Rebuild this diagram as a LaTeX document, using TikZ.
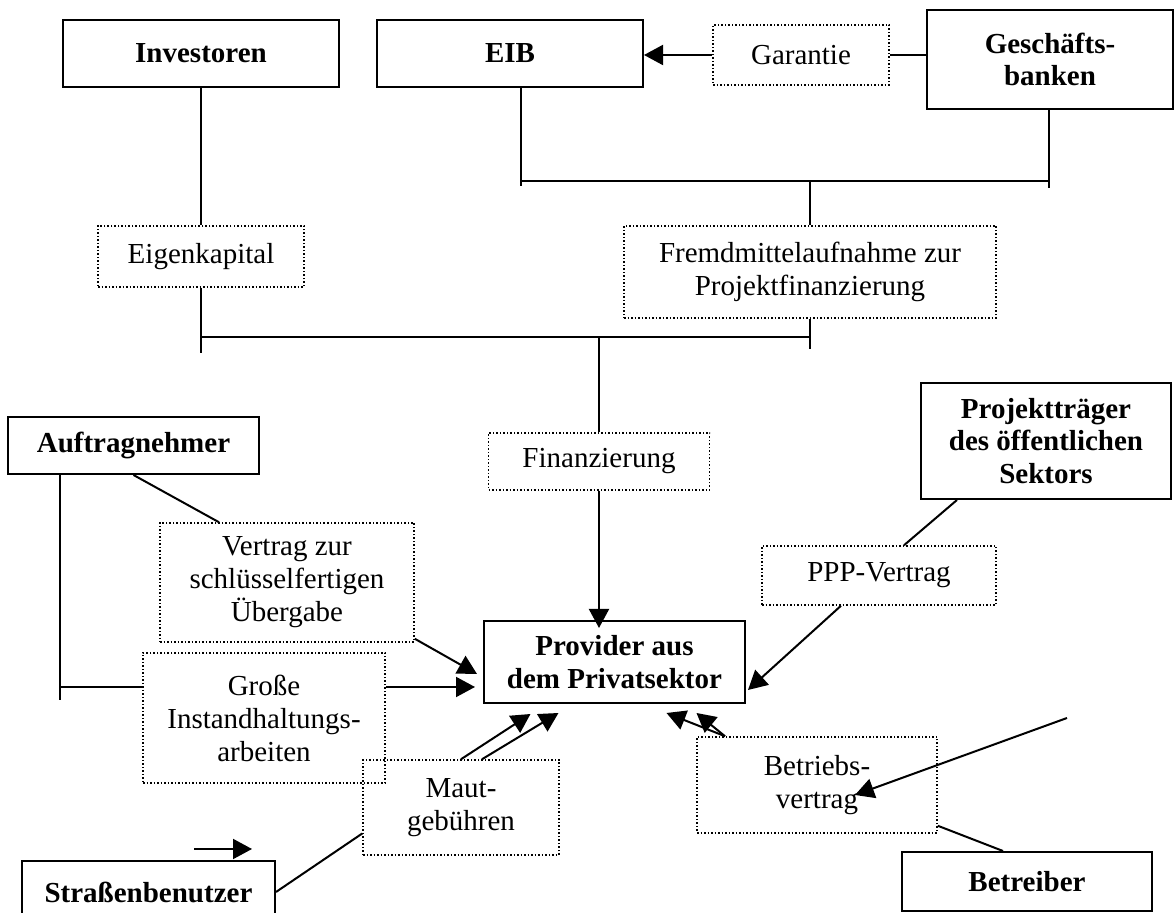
\documentclass[tikz,border=0pt]{standalone}
\usepackage{fontspec}
\setmainfont{Liberation Serif}
\usepackage{tikz}
\usetikzlibrary{arrows.meta}

\begin{document}
\begin{tikzpicture}[
    x=0.5pt, y=-0.5pt,
    box/.style={rectangle, draw, line width=1pt, align=center, inner sep=2pt,
                font=\fontsize{14.5}{16.3}\selectfont\bfseries},
    dotbox/.style={rectangle, draw, densely dotted, line width=0.75pt, align=center,
                inner sep=2pt, font=\fontsize{14.5}{16.5}\selectfont},
    link/.style={line width=1pt},
    arrow/.style={-{Triangle[length=9.5pt, width=10pt]}, line width=1pt},
]
    \useasboundingbox (0,0) rectangle (1175,913);

    \node[box, minimum width=138pt, minimum height=33.5pt] (inv) at (201,53.5) {Investoren};
    \node[box, minimum width=133pt, minimum height=33.5pt] (eib) at (510,53.5) {EIB};
    \node[dotbox, minimum width=88pt, minimum height=30pt] (gar) at (801,55) {Garantie};
    \node[box, minimum width=123pt, minimum height=49.5pt] (gesch) at (1050,59.5) {Geschäfts-\\banken};
    \node[dotbox, minimum width=103pt, minimum height=30.5pt] (eig) at (201,256.5) {Eigenkapital};
    \node[dotbox, minimum width=186pt, minimum height=46pt] (fremd) at (810,272) {Fremdmittelaufnahme zur\\Projektfinanzierung};
    \node[dotbox, minimum width=110.5pt, minimum height=28.5pt] (fin) at (599,461.5) {Finanzierung};
    \node[box, minimum width=125.5pt, minimum height=28.5pt] (auf) at (133.5,445.5) {Auftragnehmer};
    \node[dotbox, minimum width=127pt, minimum height=59.5pt] (vert) at (287,582.5) {Vertrag zur\\schlüsselfertigen\\Übergabe};
    \node[dotbox, minimum width=121pt, minimum height=65pt] (gross) at (264,718) {Große\\Instandhaltungs-\\arbeiten};
    \node[dotbox, minimum width=98pt, minimum height=47.5pt] (maut) at (461,807.5) {Maut-\\gebühren};
    \node[box, minimum width=126.5pt, minimum height=31pt] (str) at (148.5,892) {Straßenbenutzer};
    \node[box, minimum width=130.5pt, minimum height=41pt] (prov) at (614.5,662) {Provider aus\\dem Privatsektor};
    \node[box, minimum width=125pt, minimum height=58pt] (proj) at (1046,441) {Projektträger\\des öffentlichen\\Sektors};
    \node[dotbox, minimum width=117pt, minimum height=29.5pt] (ppp) at (879,575.5) {PPP-Vertrag};
    \node[dotbox, minimum width=120pt, minimum height=48pt] (betr) at (817,785) {Betriebs-\\vertrag};
    \node[box, minimum width=125pt, minimum height=29.5pt] (betreiber) at (1027,881.5) {Betreiber};

    % Finanzierungsstruktur
    \coordinate (top-l) at (521,181);
    \coordinate (top-r) at (1049,181);
    \coordinate (bot-l) at (201,337);
    \coordinate (bot-r) at (810,337);
    \coordinate (aufk) at (60,687);
    \coordinate (op) at (1067,718);
    \coordinate (s1) at (194,849);
    \coordinate (s2) at (252,849);

    \draw[arrow] (gar.west) -- (gar.west -| eib.east);
    \draw[link] (gar.east) -- (gar.east -| gesch.west);
    \draw[link] (top-l) -- (top-r);
    \draw[link] (eib.south -| top-l) -- ([yshift=-2.5pt]top-l);
    \draw[link] (gesch.south -| top-r) -- ([yshift=-3.5pt]top-r);
    \draw[link] (fremd.north) -- (fremd.north |- top-l);
    \draw[link] (inv.south) -- (eig.north);
    \draw[link] (bot-l) -- (bot-r);
    \draw[link] (eig.south) -- ([yshift=-8pt]bot-l);
    \draw[link] (fremd.south) -- ([yshift=-6pt]bot-r);
    \draw[link] (fin.north) -- (fin.north |- bot-l);
    \draw[arrow, shorten >=-4pt] (fin.south) -- (fin.south |- prov.north);

    % Vertraege
    \draw[link] (auf.south -| aufk) -- ([yshift=-6.5pt]aufk);
    \draw[link] (aufk) -- (aufk -| gross.west);
    \draw[arrow, shorten >=4pt] (aufk -| gross.east) -- (aufk -| prov.west);
    \draw[link] (auf.south) -- ([xshift=-34pt]vert.north);
    \draw[arrow] ([yshift=2pt]vert.south east) -- ([xshift=-3pt, yshift=-6pt]prov.west);
    \draw[link] ([xshift=-44.5pt]proj.south) -- ([xshift=12.5pt]ppp.north);
    \draw[arrow] ([xshift=-19pt]ppp.south) -- ([xshift=1pt, yshift=-14pt]prov.east);
    \draw[arrow] (maut.north) -- ([xshift=-42pt, yshift=-5pt]prov.south);
    \draw[arrow] ([xshift=10.5pt]maut.north) -- ([xshift=-28pt, yshift=-4.5pt]prov.south);
    \draw[arrow] ([xshift=-46pt]betr.north) -- ([xshift=26pt, yshift=-4.5pt]prov.south);
    \draw[arrow] ([xshift=-46pt]betr.north) -- ([xshift=41pt, yshift=-4.5pt]prov.south);
    \draw[arrow] (op) -- ([xshift=19pt, yshift=-5pt]betr.center);
    \draw[link] ([yshift=4pt]betr.south east) -- ([xshift=-12pt]betreiber.north);
    \draw[link] (str.east) -- ([yshift=-13pt]maut.west);
    \draw[arrow] (s1) -- (s2);
\end{tikzpicture}
\end{document}
